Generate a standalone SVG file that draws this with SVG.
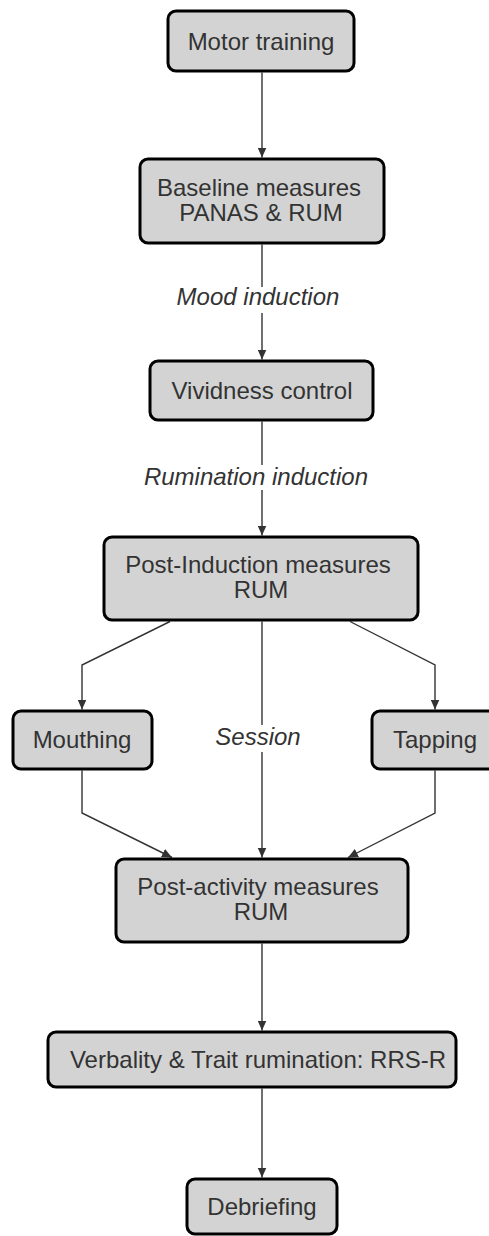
<svg xmlns="http://www.w3.org/2000/svg" width="489" height="1236" viewBox="0 0 489 1236">
<style>
.box{fill:#d3d3d3;stroke:#000;stroke-width:3}
.t{font-family:"Liberation Sans",Arial,Helvetica,sans-serif;font-size:24px;fill:#333;text-anchor:middle}
.lbl{font-style:italic}
.e{fill:none;stroke:#333;stroke-width:1.4}
</style>
<defs>
<marker id="ah" markerUnits="userSpaceOnUse" markerWidth="10" markerHeight="9" refX="10" refY="4.5" orient="auto"><path d="M0,0 L10,4.5 L0,9 z" fill="#333"/></marker>
</defs>
<rect width="489" height="1236" fill="#fff"/>
<g id="connectors">
<path class="e" d="M262,72.5 L262,157.5" marker-end="url(#ah)"/>
<path class="e" d="M262,244.5 L262,287"/>
<path class="e" d="M262,313 L262,359.5" marker-end="url(#ah)"/>
<path class="e" d="M262,421.5 L262,465"/>
<path class="e" d="M262,490 L262,535.5" marker-end="url(#ah)"/>
<path class="e" d="M170,621.5 L82,665 L82,709.5" marker-end="url(#ah)"/>
<path class="e" d="M350,621.5 L435,665 L435,709.5" marker-end="url(#ah)"/>
<path class="e" d="M262,621.5 L262,725"/>
<path class="e" d="M262,752 L262,857.5" marker-end="url(#ah)"/>
<path class="e" d="M82,770.5 L82,813 L172,857.5" marker-end="url(#ah)"/>
<path class="e" d="M435,770.5 L435,813 L348,857.5" marker-end="url(#ah)"/>
<path class="e" d="M262,943.5 L262,1030.5" marker-end="url(#ah)"/>
<path class="e" d="M262,1088.5 L262,1177.5" marker-end="url(#ah)"/>
<text class="t lbl" x="258" y="305">Mood induction</text>
<text class="t lbl" x="256" y="485">Rumination induction</text>
<text class="t lbl" x="258" y="745">Session</text>
</g>
<g id="motor"><rect class="box" x="168" y="11" width="186" height="60" rx="8"/><text class="t" x="261" y="50">Motor training</text></g>
<g id="baseline"><rect class="box" x="140" y="159" width="244" height="84" rx="8"/><text class="t" x="259" y="196">Baseline measures</text><text class="t" x="261" y="221">PANAS &amp; RUM</text></g>
<g id="vividness"><rect class="box" x="150" y="361" width="223" height="59" rx="8"/><text class="t" x="262" y="399">Vividness control</text></g>
<g id="postinduction"><rect class="box" x="104" y="537" width="314" height="83" rx="8"/><text class="t" x="258" y="573">Post-Induction measures</text><text class="t" x="261" y="598">RUM</text></g>
<g id="mouthing"><rect class="box" x="13" y="711" width="139" height="58" rx="8"/><text class="t" x="82" y="748">Mouthing</text></g>
<g id="tapping"><rect class="box" x="372" y="711" width="126" height="58" rx="8"/><text class="t" x="435" y="748">Tapping</text></g>
<g id="postactivity"><rect class="box" x="116" y="859" width="292" height="83" rx="8"/><text class="t" x="258" y="895">Post-activity measures</text><text class="t" x="261" y="920">RUM</text></g>
<g id="verbality"><rect class="box" x="48" y="1032" width="408" height="55" rx="8"/><text class="t" x="258" y="1068">Verbality &amp; Trait rumination: RRS-R</text></g>
<g id="debriefing"><rect class="box" x="187" y="1179" width="150" height="55" rx="8"/><text class="t" x="262" y="1215">Debriefing</text></g>
</svg>
